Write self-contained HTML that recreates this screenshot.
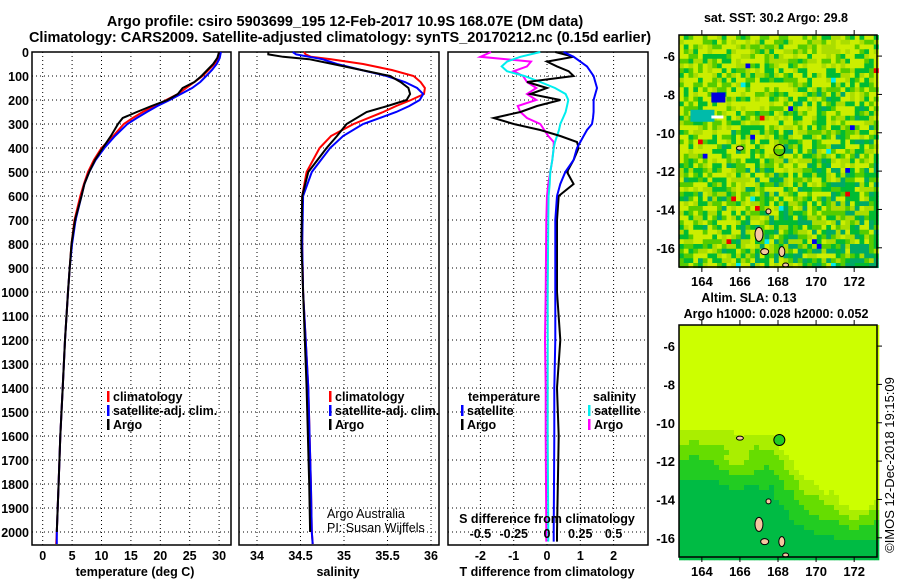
<!DOCTYPE html>
<html><head><meta charset="utf-8"><style>
body{margin:0;background:#fff}
svg{font-family:"Liberation Sans",sans-serif;font-weight:bold;font-size:12.5px}
</style></head><body>
<svg id="s" width="900" height="580" viewBox="0 0 900 580" xmlns="http://www.w3.org/2000/svg">
<text x="345" y="26" text-anchor="middle" font-size="14.5">Argo profile: csiro 5903699_195 12-Feb-2017 10.9S 168.07E (DM data)</text>
<text x="340" y="42" text-anchor="middle" font-size="14.5">Climatology: CARS2009. Satellite-adjusted climatology: synTS_20170212.nc (0.15d earlier)</text>
<g id="g"></g>
</svg>
<script>
const depths=[0,25,50,75,100,125,150,175,200,225,250,275,300,350,400,450,500,550,600,700,800,900,1000,1200,1400,1600,1800,2000,2050];
const tempClim=[30,29.8,29.2,28.2,27.2,25.8,24.4,23,21,19,17,15.3,13.8,12,10,8.7,7.7,7,6.4,5.4,4.9,4.6,4.3,3.8,3.4,3.0,2.7,2.4,2.3];
const tempSat=[30.3,30.1,29.6,28.8,27.8,26.8,25.4,23.5,21.6,19.5,17.7,16,14.4,12.3,10.5,9,7.9,7.1,6.6,5.6,5.0,4.6,4.3,3.8,3.4,3.0,2.7,2.4,2.4];
const tempArgo=[30,29.7,29.0,28.0,27.0,25.8,23.8,23,21.2,18.5,16,13.6,12.8,11.6,10.2,8.9,7.9,7.1,6.6,5.5,4.9,4.6,4.3,3.8,3.4,3.0,2.7,2.4];
const salDepths=[0,10,20,30,50,75,100,125,150,175,200,225,250,300,350,400,500,600,800,1000,1400,1800,2000,2050];
const salClim=[34.54,34.56,34.62,34.85,35.22,35.55,35.8,35.88,35.93,35.92,35.77,35.6,35.45,35.11,34.85,34.72,34.57,34.52,34.52,34.53,34.59,34.62,34.63,34.64];
const salSat=[34.41,34.45,34.6,34.75,34.92,35.2,35.49,35.7,35.84,35.91,35.87,35.75,35.6,35.22,34.99,34.84,34.63,34.53,34.52,34.53,34.59,34.62,34.63,34.64];
const salArgo=[34.13,34.13,34.3,34.6,34.87,35.2,35.53,35.65,35.74,35.76,35.72,35.5,35.26,35.03,34.92,34.8,34.59,34.52,34.51,34.53,34.57,34.6,34.61];
const diffDepths=[0,20,40,60,80,100,125,150,175,200,225,250,275,300,325,350,375,400,450,500,550,600,700,1000,1200,1400,1600,2000,2040];
const dTsat=[0.5,0.8,1.0,1.2,1.3,1.4,1.45,1.5,1.45,1.4,1.4,1.4,1.38,1.35,1.2,1.1,1.0,0.9,0.8,0.55,0.4,0.3,0.25,0.25,0.25,0.22,0.22,0.2,0.2];
const dTargo=[0.25,0.8,0,0.3,0.65,0.8,-0.6,0,-0.5,0.4,-0.3,-0.8,-1.6,-1.0,-0.2,0.4,0.9,0.95,0.8,0.6,0.8,0.35,0.3,0.3,0.4,0.3,0.35,0.3,0.3];
const dSsat=[-0.05,-0.2,-0.3,-0.34,-0.3,-0.17,-0.05,0.06,0.14,0.16,0.15,0.14,0.12,0.1,0.09,0.075,0.06,0.05,0.04,0.025,0.02,0.012,0.01,0.005,0.005,0.005,0.005,0.01,0.01];
const dSargo=[-0.42,-0.5,-0.12,-0.15,-0.25,-0.18,-0.15,-0.08,-0.15,-0.08,-0.22,-0.2,-0.15,-0.05,-0.02,0.01,0.05,0.05,0.04,0.025,0.01,0,-0.005,-0.01,-0.015,-0.01,-0.01,-0.005,-0.005];
const depthTicks=[0,100,200,300,400,500,600,700,800,900,1000,1100,1200,1300,1400,1500,1600,1700,1800,1900,2000];
const tempTicks=[0,5,10,15,20,25,30];
const salTicks=[34,34.5,35,35.5,36];
const tdTicks=[-2,-1,0,1,2];
const sdTicks=[-0.5,-0.25,0,0.25,0.5];
const lonTicks=[164,166,168,170,172];
const latTicks=[-6,-8,-10,-12,-14,-16];

const NS='http://www.w3.org/2000/svg';const G=document.getElementById('g');
function el(t,a,p){const e=document.createElementNS(NS,t);for(const k in a)e.setAttribute(k,a[k]);(p||G).appendChild(e);return e;}
function txt(x,y,s,a,p){const e=el('text',Object.assign({x:x,y:y},a||{}),p);e.textContent=s;return e;}
const yD=d=>52+d*0.24;
const xT=t=>42.7+t*5.88;
const xS=s=>257+(s-34)*87;
const xD=v=>547+v*33.3;
const xSd=v=>xD(v*4);
const TOP=52,BOT=545;
function panel(name,x0,x1,gx){
  const g=el('g',{});
  depthTicks.forEach(d=>{el('line',{x1:x0,x2:x1,y1:yD(d),y2:yD(d),stroke:'#000','stroke-width':1,'stroke-dasharray':'1 3'},g);});
  gx.forEach(x=>el('line',{x1:x,x2:x,y1:TOP,y2:BOT,stroke:'#000','stroke-width':1,'stroke-dasharray':'1 3'},g));
  el('rect',{x:x0,y:TOP,width:x1-x0,height:BOT-TOP,fill:'none',stroke:'#000','stroke-width':1.5},g);
  return g;
}
function line(g,name,xs,ds,fx,col){const p=el('polyline',{points:xs.map((v,i)=>fx(v).toFixed(1)+','+yD(ds[i]).toFixed(1)).join(' '),fill:'none',stroke:col,'stroke-width':2},g);}
const p1=panel('temperature-panel',32,231,tempTicks.map(xT));
line(p1,'temp-climatology-line',tempClim,depths,xT,'#f00');
line(p1,'temp-satellite-line',tempSat,depths,xT,'#00f');
line(p1,'temp-argo-line',tempArgo,depths,xT,'#000');
depthTicks.forEach(d=>{const t=txt(29,yD(d)+5,String(d),{'text-anchor':'end'});});
tempTicks.forEach(v=>{const t=txt(xT(v),560,String(v),{'text-anchor':'middle'});});
txt(135,576,'temperature (deg C)',{'text-anchor':'middle'});
const p2=panel('salinity-panel',239,439,salTicks.map(xS));
line(p2,'sal-climatology-line',salClim,salDepths,xS,'#f00');
line(p2,'sal-satellite-line',salSat,salDepths,xS,'#00f');
line(p2,'sal-argo-line',salArgo,salDepths,xS,'#000');
salTicks.forEach(v=>{const t=txt(xS(v),560,String(v),{'text-anchor':'middle'});});
txt(338,576,'salinity',{'text-anchor':'middle'});
txt(327,518,'Argo Australia',{'font-weight':'normal','font-size':'12.5'});
txt(327,532,'PI: Susan Wijffels',{'font-weight':'normal','font-size':'12.5'});
function leg(x,y,col,s,nm){el('rect',{x:x,y:y-10,width:2.5,height:11,fill:col});const t=txt(x+6,y,s);}
[[107,'#f00','climatology'],[107,'#00f','satellite-adj. clim.'],[107,'#000','Argo']].forEach((r,i)=>leg(r[0],401+i*14,r[1],r[2],'temp-legend-entry'));
[[329,'#f00','climatology'],[329,'#00f','satellite-adj. clim.'],[329,'#000','Argo']].forEach((r,i)=>leg(r[0],401+i*14,r[1],r[2],'sal-legend-entry'));
const p3=panel('difference-panel',448,648,tdTicks.map(xD));
line(p3,'dS-argo-line',dSargo,diffDepths,xSd,'#f0f');
line(p3,'dS-satellite-line',dSsat,diffDepths,xSd,'#0ee');
line(p3,'dT-argo-line',dTargo,diffDepths,xD,'#000');
line(p3,'dT-satellite-line',dTsat,diffDepths,xD,'#00f');
tdTicks.forEach(v=>{const t=txt(xD(v),560,String(v),{'text-anchor':'middle'});});
sdTicks.forEach(v=>{const t=txt(xSd(v),538,String(v),{'text-anchor':'middle'});});
txt(547,523,'S difference from climatology',{'text-anchor':'middle'});
txt(547,576,'T difference from climatology',{'text-anchor':'middle'});
txt(468,401,'temperature');leg(461,415,'#00f','satellite','dT-legend-entry');leg(461,429,'#000','Argo','dT-legend-entry');
txt(593,401,'salinity');leg(588,415,'#0ee','satellite','dS-legend-entry');leg(588,429,'#f0f','Argo','dS-legend-entry');
const MX0=679,MX1=877;
const xL=l=>MX0+(l-162.8)*19.04;
function yLat(y0){return a=>y0+(-4.9-a)*19.17;}
function hash(i,j,k){let h=(i*374761393+j*668265263+k*1442695041)|0;h=(h^(h>>>13))*1274126177|0;return ((h^(h>>>16))>>>0)/4294967296;}
function cl(x){return Math.max(0,Math.min(1,x));}
function map(name,y0,k,smooth){
  const y1=y0+232,yl=yLat(y0);
  const g=el('g',{});
  const cs=smooth?5:4.75;
  for(let i=0;i*cs<MX1-MX0;i++)for(let j=0;j*cs<232;j++){
    const u=i*cs/(MX1-MX0),v=j*cs/232;let c;
    if(smooth){
      const vb=0.42+0.2*cl((u-0.45)*6);
      let f=cl((v-vb)*3.2)-0.45*Math.exp(-((u-0.88)**2+(v-0.75)**2)/0.02)-0.3*Math.exp(-((u-0.28)**2+(v-0.58)**2)/0.006)+0.15*Math.exp(-((u-0.1)**2+(v-0.6)**2)/0.02)-0.2*Math.exp(-((u-0.3)**2+(v-0.1)**2)/0.01)+(hash(i>>1,j>>1,k)-0.5)*0.1;
      c=f<0.12?'#ccff00':f<0.3?'#aaee00':f<0.55?'#66dd00':f<0.85?'#22cc22':'#00bb44';
    }else{
      const r=hash(i,j,k);let f=r*0.85+0.25*v*(0.5+u)-0.05;
      c=f<0.35?'#ccee00':f<0.52?'#aadd00':f<0.68?'#55cc00':f<0.86?'#00bb33':'#00aa66';
      const r2=hash(j,i,k+7);if(r2>0.995)c='#0000ee';else if(r2>0.99)c='#ee0000';else if(r2>0.986)c='#00eeee';
    }
    el('rect',{x:MX0+i*cs,y:y0+j*cs,width:cs+0.3,height:cs+0.3,fill:c},g);
  }
  if(!smooth){el('rect',{x:xL(163.4),y:yl(-8.8),width:24,height:12,fill:'#00bbaa'},g);el('rect',{x:xL(164.5),y:yl(-7.9),width:14,height:10,fill:'#0000dd'},g);el('rect',{x:xL(164.5),y:yl(-9.1),width:12,height:3,fill:'#fff'},g);}
  [[167,-15.3,4,7],[167.3,-16.2,4,3],[168.2,-16.2,3,5],[166,-10.8,3.5,2],[167.5,-14.1,2.5,2.5],[168.4,-16.9,3,2]].forEach(s=>{el('ellipse',{cx:xL(s[0]),cy:yl(s[1]),rx:s[2],ry:s[3],fill:'#f5c6a0',stroke:'#000','stroke-width':1},g);});
  el('circle',{cx:xL(168.07),cy:yl(-10.9),r:5.5,fill:smooth?'#22cc22':'none',stroke:'#000','stroke-width':1},g);
  el('rect',{x:MX0,y:y0,width:MX1-MX0,height:232,fill:'none',stroke:'#000','stroke-width':1.5},g);
  lonTicks.forEach(l=>{el('line',{x1:xL(l),x2:xL(l),y1:y0,y2:y0-5,stroke:'#000'},g);el('line',{x1:xL(l),x2:xL(l),y1:y1,y2:y1+5,stroke:'#000'},g);const t=txt(xL(l),y1+19,String(l),{'text-anchor':'middle','font-size':'13'},g);});
  latTicks.forEach(a=>{el('line',{x1:MX1,x2:MX1+5,y1:yl(a),y2:yl(a),stroke:'#000'},g);const t=txt(675,yl(a)+5,String(a),{'text-anchor':'end','font-size':'13'},g);});
}
map('sst-map',35,3,false);
map('sla-map',325,5,true);
txt(776,22,'sat. SST: 30.2 Argo: 29.8',{'text-anchor':'middle'});
txt(749,302,'Altim. SLA: 0.13',{'text-anchor':'middle'});
txt(776,318,'Argo h1000: 0.028 h2000: 0.052',{'text-anchor':'middle'});
txt(0,0,'©IMOS 12-Dec-2018 19:15:09',{'text-anchor':'middle','font-weight':'normal','font-size':'13',transform:'translate(894,465) rotate(-90)'});
</script>
</body></html>
